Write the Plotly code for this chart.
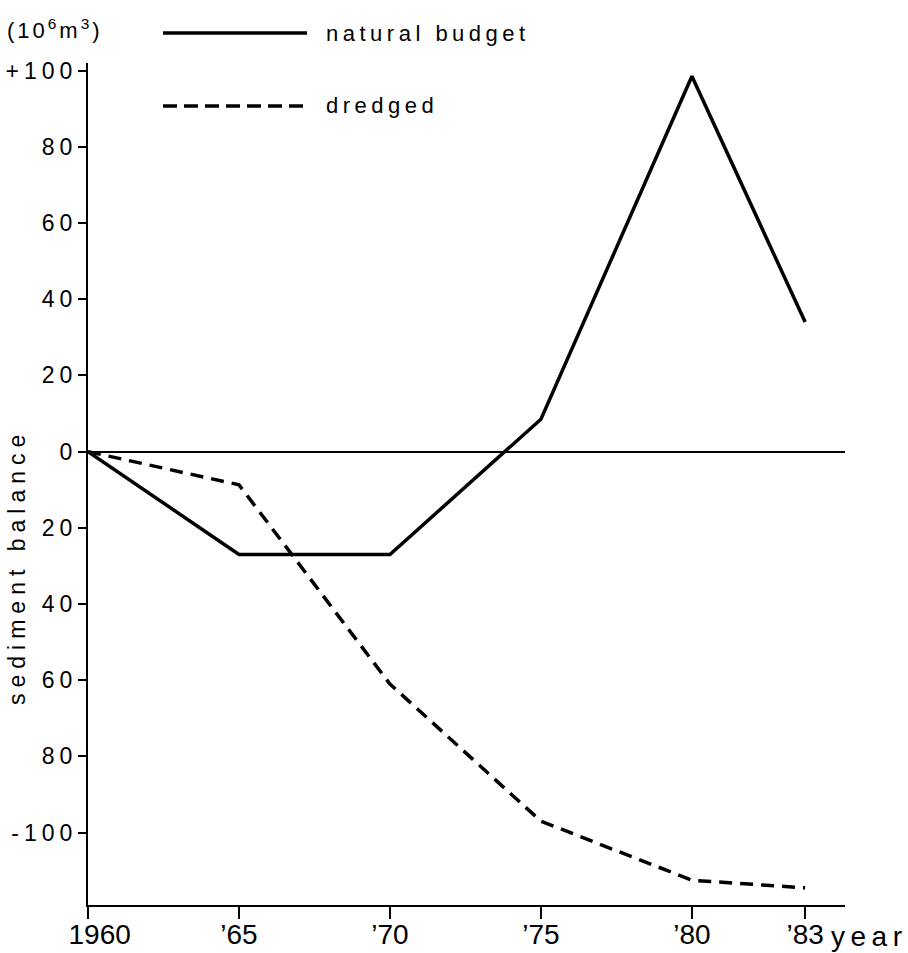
import plotly.graph_objects as go

# ---- data ----
years = [1960, 1965, 1970, 1975, 1980, 1983.75]   # positions along the drawn year axis
natural_budget = [0, -27, -27, 8.5, 98.5, 34]
dredged = [0, -8.7, -61, -97, -112.5, -114.5]

x_tick_vals = [1960, 1965, 1970, 1975, 1980, 1983.75]
x_tick_text = ["1960", "\u201965", "\u201970", "\u201975", "\u201980", "\u201983"]
y_tick_vals = [100, 80, 60, 40, 20, 0, -20, -40, -60, -80, -100]
y_tick_text = ["+100", "80", "60", "40", "20", "0", "20", "40", "60", "80", "-100"]

series_names = ["natural budget", "dredged"]
y_title = "sediment balance"
x_title = "year"
unit_label = "(10<sup>6</sup>m<sup>3</sup>)"

# ---- layout constants ----
W, H = 908, 953
L, R, T, B = 88, 845, 63, 905
FONT = "Liberation Sans, Arial, sans-serif"
NB = "\u00a0"


def spaced(s, ls):
    return '<span style="letter-spacing:%spx">%s</span>' % (ls, s)


def px(xp):
    return (xp - L) / (R - L)


def py(yp):
    return (B - yp) / (B - T)


# first label nudged right off the y axis (as in the drawing)
x_tick_disp = list(x_tick_text)
x_tick_disp[0] = NB * 3 + x_tick_disp[0]

fig = go.Figure()
fig.add_trace(go.Scatter(x=years, y=natural_budget, mode="lines", name=series_names[0],
                         line=dict(color="black", width=3.5), showlegend=False))
fig.add_trace(go.Scatter(x=years, y=dredged, mode="lines", name=series_names[1],
                         line=dict(color="black", width=3.5, dash="13px,8px"), showlegend=False))

shapes = [
    dict(type="line", xref="paper", yref="paper", x0=px(163), x1=px(307), y0=py(33), y1=py(33),
         line=dict(color="black", width=3.5)),
    dict(type="line", xref="paper", yref="paper", x0=px(163), x1=px(307), y0=py(106), y1=py(106),
         line=dict(color="black", width=3.5, dash="14px,7px")),
]

annotations = [
    dict(text=spaced(series_names[0], 4.5), xref="paper", yref="paper", x=px(324), y=py(33),
         xanchor="left", yanchor="middle", showarrow=False, font=dict(size=22, family=FONT, color="black")),
    dict(text=spaced(series_names[1], 4.5), xref="paper", yref="paper", x=px(324), y=py(106),
         xanchor="left", yanchor="middle", showarrow=False, font=dict(size=22, family=FONT, color="black")),
    dict(text=spaced(unit_label, 3), xref="paper", yref="paper", x=px(5), y=py(29),
         xanchor="left", yanchor="middle", showarrow=False, font=dict(size=22, family=FONT, color="black")),
    dict(text=spaced(y_title, 6), xref="paper", yref="paper", x=px(17), y=py(567),
         xanchor="center", yanchor="middle", textangle=-90, showarrow=False,
         font=dict(size=23, family=FONT, color="black")),
    dict(text=spaced(x_title, 5.5), xref="paper", yref="paper", x=px(829), y=py(936),
         xanchor="left", yanchor="middle", showarrow=False, font=dict(size=28, family=FONT, color="black")),
]

fig.update_layout(
    width=W, height=H,
    margin=dict(l=L, r=W - R, t=T, b=H - B, pad=0, autoexpand=False),
    paper_bgcolor="white", plot_bgcolor="white",
    font=dict(family=FONT, color="black"),
    shapes=shapes, annotations=annotations,
    xaxis=dict(range=[1960, 1985.07], tickmode="array", tickvals=x_tick_vals, ticktext=x_tick_disp,
               ticks="outside", ticklen=12, tickwidth=2, tickcolor="black", automargin=False,
               showline=True, linewidth=2, linecolor="black", showgrid=False, zeroline=False,
               tickfont=dict(size=28, family=FONT, color="black")),
    yaxis=dict(range=[-119, 102], tickmode="array", tickvals=y_tick_vals,
               ticktext=[spaced(t, 5) for t in y_tick_text], automargin=False,
               ticks="outside", ticklen=8, tickwidth=2, tickcolor="black",
               showline=True, linewidth=2, linecolor="black", showgrid=False,
               zeroline=True, zerolinecolor="black", zerolinewidth=1.5,
               tickfont=dict(size=23, family=FONT, color="black")),
)

try:
    fig.update_xaxes(ticklabelstandoff=-9)
except ValueError:
    pass
try:
    fig.update_yaxes(ticklabelstandoff=-4)
except ValueError:
    pass

fig.write_html("out.html")
